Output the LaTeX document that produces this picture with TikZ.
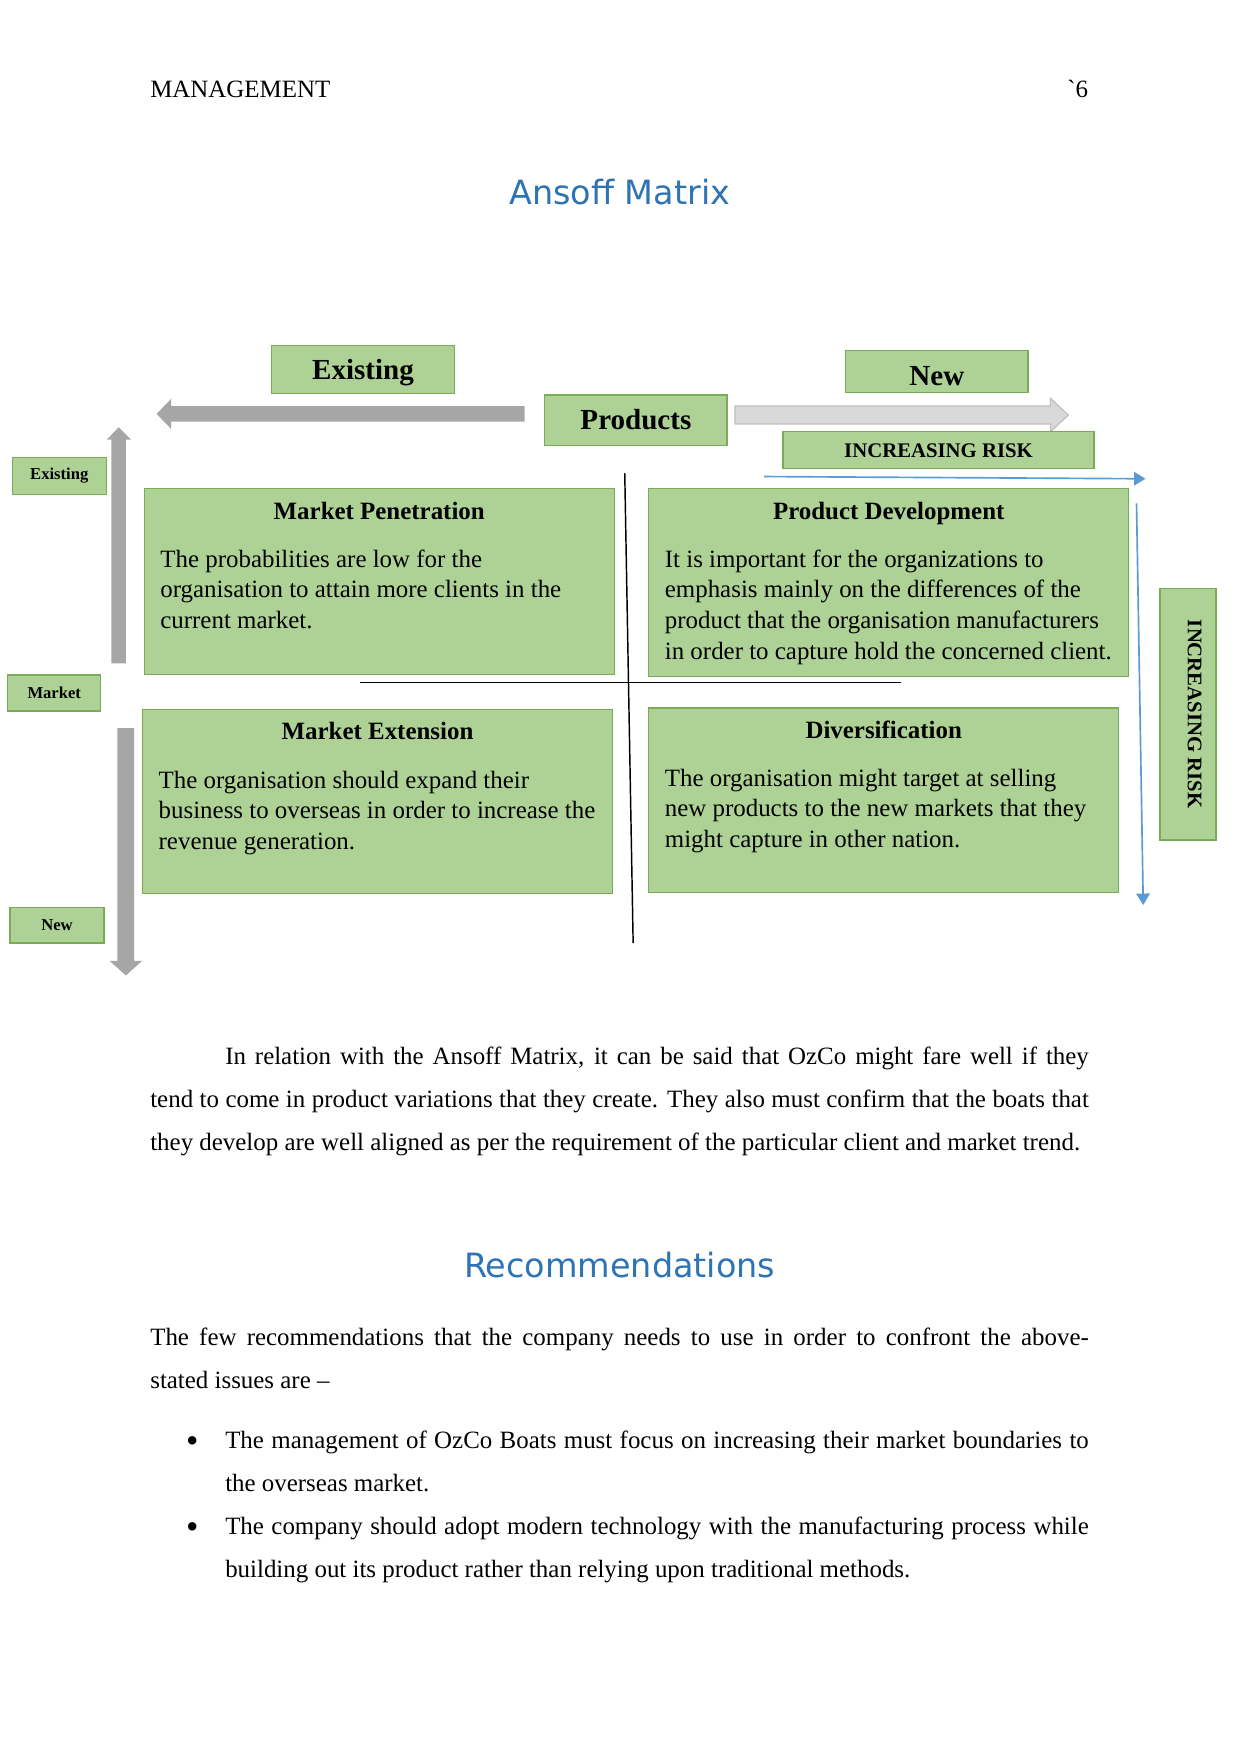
\documentclass[tikz,border=0pt]{standalone}
\usepackage{fontspec}
\setmainfont{Liberation Serif}
\newfontfamily\rawserif{Liberation Serif}
\newfontfamily\headfont{DejaVu Sans}
\usetikzlibrary{arrows.meta}
\newlength\spx
\setlength\spx{0.18936mm}
\definecolor{boxfill}{RGB}{174,210,150}
\definecolor{boxline}{RGB}{122,172,88}
\definecolor{headblue}{RGB}{46,116,181}
\definecolor{riskblue}{RGB}{91,155,213}
\definecolor{darkarrow}{RGB}{166,166,166}
\definecolor{lightarrow}{RGB}{217,217,217}
\definecolor{lightarrowline}{RGB}{191,191,191}
\begin{document}
\begin{tikzpicture}[x=0.18936mm,y=-0.18936mm,
  gbox/.style={draw=boxline, fill=boxfill, line width=0.6pt, inner sep=0pt},
  bigb/.style={gbox, font=\bfseries\fontsize{14}{16}\selectfont, text height=12pt, text depth=3pt},
  smallb/.style={gbox, font=\bfseries\fontsize{8}{9}\selectfont},
  riskb/.style={gbox, font=\bfseries\fontsize{10}{12}\selectfont},
  qtitle/.style={anchor=base, inner sep=0pt, font=\bfseries\fontsize{12}{15}\selectfont},
  qbody/.style={anchor=base west, inner sep=0pt, font=\fontsize{12}{15}\selectfont},
  txt/.style={anchor=base west, inner sep=0pt, font=\fontsize{12}{15}\selectfont},
  bullet/.style={anchor=base, inner sep=0pt, font=\fontsize{17}{17}\selectfont},
  heading/.style={anchor=base, inner sep=0pt, text=headblue, font=\headfont\fontsize{16.1}{19}\selectfont},
  axisline/.style={draw=black, line width=0.7pt},
  riskarrow/.style={draw=riskblue, line width=0.8pt, -{Triangle[length=5.5pt,width=6.5pt]}}
]
\fill[white] (0,0) rectangle (1109,1568);
\useasboundingbox (0,0) rectangle (1109,1568);

% header
\node[txt] (hdr) at (134,87) {MANAGEMENT};
\node[anchor=base east, inner sep=0pt, font=\rawserif\fontsize{12}{15}\selectfont] (pgno) at (973,87) {\symbol{96}6};

% title
\node[heading] (title) at (554,183) {Ansoff Matrix};

% block arrows
\fill[darkarrow] (469,363) -- (153,363) -- (153,356.5) -- (140,370) -- (153,383.5) -- (153,377) -- (469,377) -- cycle;
\filldraw[fill=lightarrow, draw=lightarrowline, line width=0.6pt] (657,363) -- (939,363) -- (939,356) -- (955,371) -- (939,386) -- (939,379) -- (657,379) -- cycle;
\fill[darkarrow] (99.5,593) -- (99.5,393) -- (95.5,393) -- (106,382) -- (117,393) -- (112.5,393) -- (112.5,593) -- cycle;
\fill[darkarrow] (105,651) -- (120,651) -- (120,859) -- (127,859) -- (112.5,872) -- (98,859) -- (105,859) -- cycle;

% top labels
\node[bigb, minimum width=163\spx, minimum height=43\spx] (pexist) at (324.5,330.5) {Existing};
\node[bigb, minimum width=163\spx, minimum height=45\spx] (prod) at (568.5,375.5) {Products};
\node[bigb, minimum width=163\spx, minimum height=38\spx, text height=16pt, text depth=2pt] (pnew) at (837.5,332) {New};
\node[riskb, minimum width=278\spx, minimum height=33\spx] (riskh) at (839,402.5) {INCREASING RISK};

% left labels
\node[smallb, minimum width=84\spx, minimum height=33\spx] (mexist) at (53,425.5) {Existing};
\node[smallb, minimum width=83\spx, minimum height=32\spx] (market) at (48.5,619.5) {Market};
\node[smallb, minimum width=84\spx, minimum height=32\spx] (mnew) at (51,827) {New};

% vertical risk label
\node[gbox, minimum width=50\spx, minimum height=225\spx] (riskv) at (1062,638.5) {};
\node[rotate=-90, inner sep=0pt, font=\bfseries\fontsize{10}{12}\selectfont] (riskvt) at (1068,638.5) {INCREASING RISK};

% risk arrows
\coordinate (rh1) at (683,426);
\coordinate (rh2) at (1024,428);
\draw[riskarrow] (rh1) -- (rh2);
\coordinate (rv1) at (1016,450);
\coordinate (rv2) at (1022,809);
\draw[riskarrow] (rv1) -- (rv2);

% quadrants
\node[gbox, minimum width=420\spx, minimum height=166\spx] (mp) at (339,520) {};
\node[gbox, minimum width=429\spx, minimum height=168\spx] (pd) at (794.5,521) {};
\node[gbox, minimum width=420\spx, minimum height=165\spx] (me) at (337.5,716.5) {};
\node[gbox, minimum width=420\spx, minimum height=165\spx] (dv) at (790,715.5) {};

% axis lines
\coordinate (vtop) at (558.5,423);
\coordinate (vbot) at (566,843);
\draw[axisline] (vtop) -- (vbot);
\coordinate (hl) at (322,610);
\coordinate (hr) at (805,610);
\draw[axisline] (hl) -- (hr);

% quadrant texts
\node[qtitle] (mpt) at (339,464) {Market Penetration};
\node[qbody] (mp1) at (143,507) {The probabilities are low for the};
\node[qbody] (mp2) at (143,534.5) {organisation to attain more clients in the};
\node[qbody] (mp3) at (143,562) {current market.};

\node[qtitle] (pdt) at (794.5,464) {Product Development};
\node[qbody] (pd1) at (594,507) {It is important for the organizations to};
\node[qbody] (pd2) at (594,534.5) {emphasis mainly on the differences of the};
\node[qbody] (pd3) at (594,562) {product that the organisation manufacturers};
\node[qbody] (pd4) at (594,589.5) {in order to capture hold the concerned client.};

\node[qtitle] (met) at (337.5,661) {Market Extension};
\node[qbody] (me1) at (141.5,704.5) {The organisation should expand their};
\node[qbody] (me2) at (141.5,731.5) {business to overseas in order to increase the};
\node[qbody] (me3) at (141.5,759) {revenue generation.};

\node[qtitle] (dvt) at (790,660.5) {Diversification};
\node[qbody] (dv1) at (594,703) {The organisation might target at selling};
\node[qbody] (dv2) at (594,730) {new products to the new markets that they};
\node[qbody] (dv3) at (594,757.5) {might capture in other nation.};

% paragraph
\node[txt] (p1) at (201,951.5) {\makebox[772\spx][s]{In relation with the Ansoff Matrix, it can be said that OzCo might fare well if they}};
\node[txt] (p2) at (134,990) {\makebox[839\spx][s]{tend to come in product variations that they create. They also must confirm that the boats that}};
\node[txt] (p3) at (134,1028.5) {they develop are well aligned as per the requirement of the particular client and market trend.};

% recommendations
\node[heading] (rec) at (554,1142) {Recommendations};
\node[txt] (r1) at (134,1203) {\makebox[839\spx][s]{The few recommendations that the company needs to use in order to confront the above-}};
\node[txt] (r2) at (134,1241.5) {stated issues are –};

\node[bullet] (b1) at (172,1294.5) {\raisebox{-2pt}{•}};
\node[txt] (b1a) at (201,1294.5) {\makebox[772\spx][s]{The management of OzCo Boats must focus on increasing their market boundaries to}};
\node[txt] (b1b) at (201,1333) {the overseas market.};
\node[bullet] (b2) at (172,1371.5) {\raisebox{-2pt}{•}};
\node[txt] (b2a) at (201,1371.5) {\makebox[772\spx][s]{The company should adopt modern technology with the manufacturing process while}};
\node[txt] (b2b) at (201,1410) {building out its product rather than relying upon traditional methods.};
\end{tikzpicture}
\end{document}
